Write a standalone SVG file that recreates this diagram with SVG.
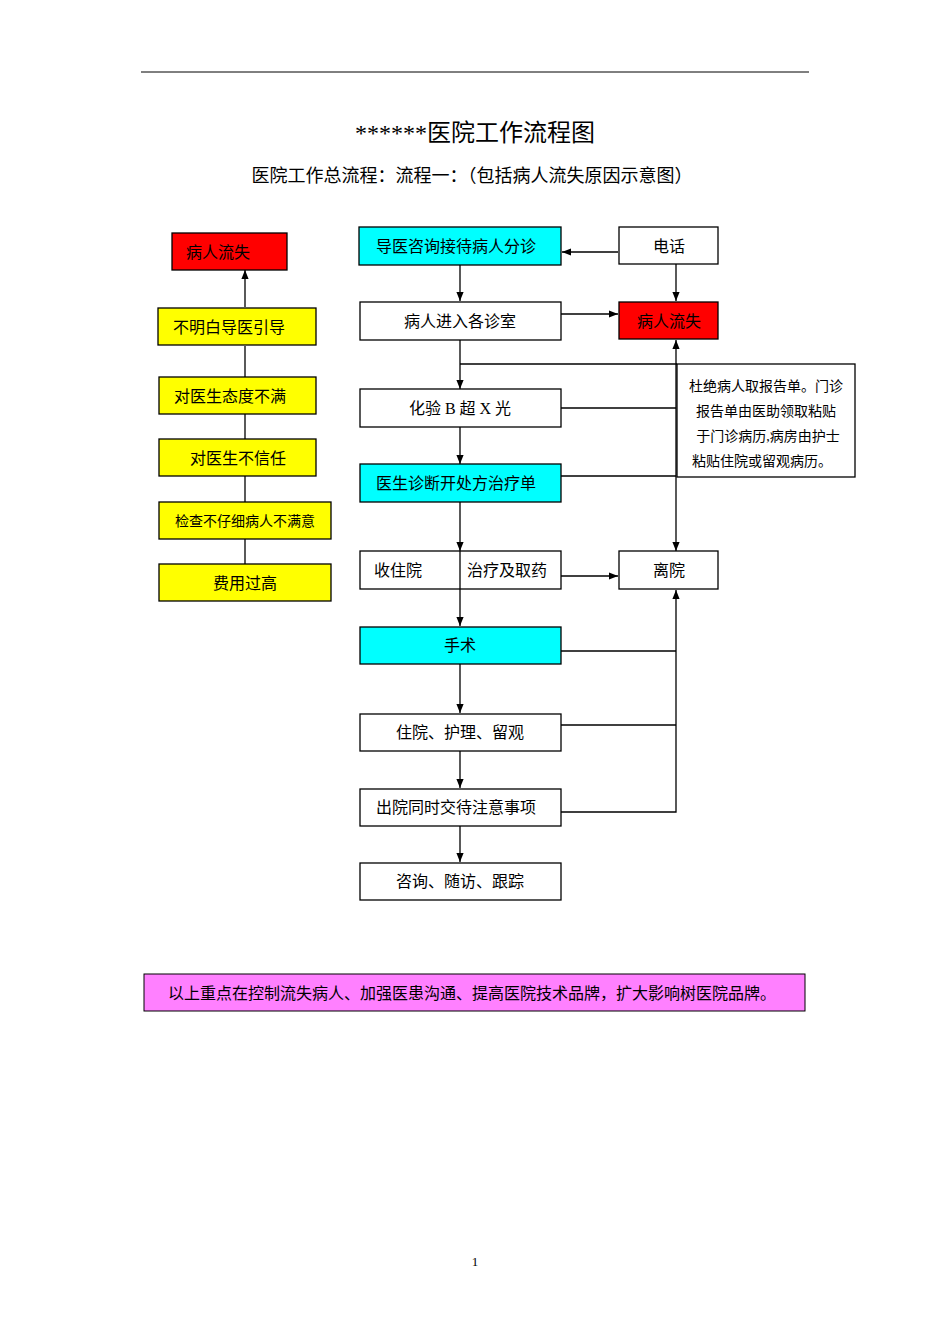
<svg xmlns="http://www.w3.org/2000/svg" width="950" height="1344" viewBox="0 0 950 1344">
<defs>
<marker id="a" viewBox="0 0 10 10" refX="10" refY="5" markerWidth="7" markerHeight="7" orient="auto-start-reverse"><path d="M0,1 L10,5 L0,9 z" fill="#000"/></marker>
<style>
text{font-family:"Liberation Serif","Noto Sans CJK SC",serif;font-size:16px;fill:#000;text-anchor:middle;dominant-baseline:central}
.b{stroke:#000;stroke-width:1.3}
.l{stroke:#000;stroke-width:1.3;fill:none}
.w{fill:#fff}.c{fill:#00ffff}.r{fill:#ff0000}.y{fill:#ffff00}
</style>
</defs>
<rect width="950" height="1344" fill="#fff"/>
<line x1="141" y1="72" x2="809" y2="72" stroke="#000"/>
<text x="475" y="133" style="font-size:24px">******医院工作流程图</text>
<text x="472" y="176" style="font-size:18px">医院工作总流程：流程一：（包括病人流失原因示意图）</text>
<g id="connectors">
<line class="l" x1="245" y1="307" x2="245" y2="270" marker-end="url(#a)"/>
<line class="l" x1="245" y1="346" x2="245" y2="565"/>
<line class="l" x1="618" y1="252" x2="562" y2="252" marker-end="url(#a)"/>
<line class="l" x1="460" y1="265" x2="460" y2="301" marker-end="url(#a)"/>
<line class="l" x1="676" y1="264" x2="676" y2="301" marker-end="url(#a)"/>
<line class="l" x1="561" y1="314" x2="618" y2="314" marker-end="url(#a)"/>
<line class="l" x1="460" y1="340" x2="460" y2="389" marker-end="url(#a)"/>
<line class="l" x1="460" y1="364" x2="677" y2="364"/>
<line class="l" x1="460" y1="427" x2="460" y2="464" marker-end="url(#a)"/>
<line class="l" x1="561" y1="408" x2="676" y2="408"/>
<line class="l" x1="561" y1="476" x2="676" y2="476"/>
<line class="l" x1="676" y1="551" x2="676" y2="340" marker-start="url(#a)" marker-end="url(#a)"/>
<line class="l" x1="460" y1="502" x2="460" y2="551" marker-end="url(#a)"/>
<line class="l" x1="460" y1="551" x2="460" y2="626" marker-end="url(#a)"/>
<line class="l" x1="561" y1="576" x2="618" y2="576" marker-end="url(#a)"/>
<line class="l" x1="460" y1="664" x2="460" y2="713" marker-end="url(#a)"/>
<line class="l" x1="460" y1="751" x2="460" y2="788" marker-end="url(#a)"/>
<line class="l" x1="460" y1="826" x2="460" y2="862" marker-end="url(#a)"/>
<polyline class="l" points="561,651 676,651"/>
<polyline class="l" points="561,725 676,725"/>
<polyline class="l" points="561,812 676,812 676,590" marker-end="url(#a)"/>
</g>
<g id="n1"><rect class="b r" x="172" y="233" width="115" height="37"/><text x="218" y="252">病人流失</text></g>
<g id="n2"><rect class="b y" x="158" y="308" width="158" height="37"/><text x="229" y="327">不明白导医引导</text></g>
<g id="n3"><rect class="b y" x="159" y="377" width="157" height="37"/><text x="230" y="396">对医生态度不满</text></g>
<g id="n4"><rect class="b y" x="159" y="439" width="157" height="37"/><text x="238" y="458">对医生不信任</text></g>
<g id="n5"><rect class="b y" x="159" y="502" width="172" height="37"/><text x="245" y="521" style="font-size:14px">检查不仔细病人不满意</text></g>
<g id="n6"><rect class="b y" x="159" y="564" width="172" height="37"/><text x="245" y="583">费用过高</text></g>
<g id="n7"><rect class="b c" x="359" y="227" width="202" height="38"/><text x="456" y="246">导医咨询接待病人分诊</text></g>
<g id="n8"><rect class="b w" x="619" y="227" width="99" height="37"/><text x="669" y="246">电话</text></g>
<g id="n9"><rect class="b w" x="360" y="302" width="201" height="38"/><text x="460" y="321">病人进入各诊室</text></g>
<g id="n10"><rect class="b r" x="619" y="302" width="99" height="37"/><text x="669" y="321">病人流失</text></g>
<g id="n11"><rect class="b w" x="677" y="364" width="178" height="113"/>
<text x="766" y="386" style="font-size:14px">杜绝病人取报告单。门诊</text>
<text x="766" y="411" style="font-size:14px">报告单由医助领取粘贴</text>
<text x="768" y="436" style="font-size:14px">于门诊病历,病房由护士</text>
<text x="762" y="461" style="font-size:14px">粘贴住院或留观病历。</text></g>
<g id="n12"><rect class="b w" x="360" y="389" width="201" height="38"/><text x="460" y="408">化验 B 超 X 光</text></g>
<g id="n13"><rect class="b c" x="360" y="464" width="201" height="38"/><text x="456" y="483">医生诊断开处方治疗单</text></g>
<g id="n14"><rect class="b w" x="360" y="551" width="201" height="38"/><text x="398" y="570">收住院</text><text x="507" y="570">治疗及取药</text><line class="l" x1="460" y1="551" x2="460" y2="589"/></g>
<g id="n15"><rect class="b w" x="619" y="551" width="99" height="38"/><text x="669" y="570">离院</text></g>
<g id="n16"><rect class="b c" x="360" y="627" width="201" height="37"/><text x="460" y="645">手术</text></g>
<g id="n17"><rect class="b w" x="360" y="714" width="201" height="37"/><text x="460" y="732">住院、护理、留观</text></g>
<g id="n18"><rect class="b w" x="360" y="789" width="201" height="37"/><text x="456" y="807">出院同时交待注意事项</text></g>
<g id="n19"><rect class="b w" x="360" y="863" width="201" height="37"/><text x="460" y="881">咨询、随访、跟踪</text></g>
<g id="n20"><rect x="144" y="974" width="661" height="37" fill="#ff80ff" stroke="#000"/><text x="472" y="993">以上重点在控制流失病人、加强医患沟通、提高医院技术品牌，扩大影响树医院品牌。</text></g>
<text x="475" y="1261" style="font-size:13px">1</text>
</svg>
